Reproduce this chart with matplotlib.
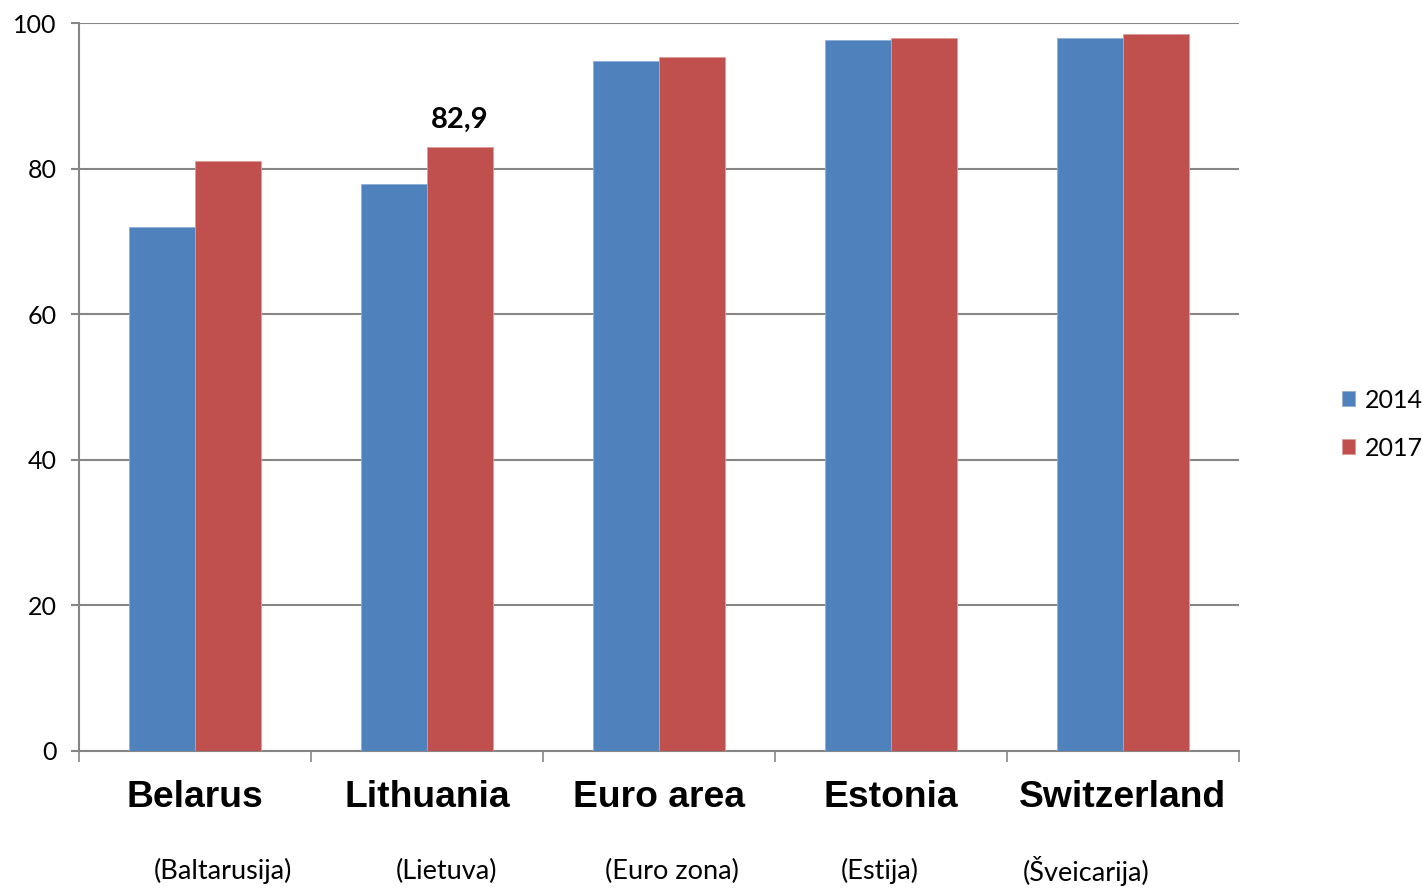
import matplotlib.pyplot as plt
import numpy as np

countries = ["Belarus", "Lithuania", "Euro area", "Estonia", "Switzerland"]
local_names = ["(Baltarusija)", "(Lietuva)", "(Euro zona)", "(Estija)", "(Šveicarija)"]
years = ["2014", "2017"]
v2014 = [72.0, 77.9, 94.8, 97.7, 98.0]
v2017 = [81.1, 82.9, 95.3, 98.0, 98.5]
yticks = [0, 20, 40, 60, 80, 100]

blue = "#4F81BD"
red = "#C0504D"
grid = "#868686"

fig = plt.figure(figsize=(14.22, 8.88), dpi=100)
ax = fig.add_axes([79/1422, 1-751/888, 1160/1422, 728/888])

x = np.arange(len(countries))
w = 0.285
ax.bar(x - w/2, v2014, w, color=blue, edgecolor="#8fb0d8", linewidth=0.6, label=years[0], zorder=3)
ax.bar(x + w/2, v2017, w, color=red, edgecolor="#dc9a98", linewidth=0.6, label=years[1], zorder=3)

# value label only on Lithuania 2017
ax.text(x[1] + w/2, v2017[1] + 2.0, "82,9", ha="center", va="bottom",
        fontsize=21, fontweight="bold", family="Lato")

ax.set_xlim(-0.5, len(countries) - 0.5)
ax.set_ylim(0, 100)
ax.set_yticks(yticks)
ax.set_yticklabels([str(t) for t in yticks], fontsize=18, family="Lato")
ax.yaxis.grid(True, color=grid, linewidth=1.5, zorder=0)
ax.tick_params(axis="y", length=6, width=1.5, color=grid, pad=10)

ax.set_xticks(x)
ax.set_xticklabels(countries, fontsize=26.8, fontweight="bold", family="Liberation Sans")
ax.tick_params(axis="x", which="major", length=0, pad=21)
ax.set_xticks(np.arange(len(countries) + 1) - 0.5, minor=True)
ax.tick_params(axis="x", which="minor", length=8, width=1.2, color=grid, direction="out")

for s in ["top", "right"]:
    ax.spines[s].set_visible(False)
ax.spines["left"].set_color(grid)
ax.spines["left"].set_linewidth(1.5)
ax.spines["bottom"].set_color(grid)
ax.spines["bottom"].set_linewidth(1.5)

# local names under the categories, placed by hand as in the original
offsets = [0.12, 0.082, 0.056, -0.047, -0.16]
for i, name in enumerate(local_names):
    ax.text(x[i] + offsets[i], -16.5, name, ha="center", va="center",
            fontsize=19.5, family="Lato", clip_on=False)

leg = ax.legend(loc="center left", bbox_to_anchor=(1.069, 0.449), frameon=False,
                prop={"family": "Lato", "size": 18}, handlelength=0.55,
                handleheight=0.55, handletextpad=0.4, labelspacing=1.0)

fig.savefig("out.png", dpi=100)
